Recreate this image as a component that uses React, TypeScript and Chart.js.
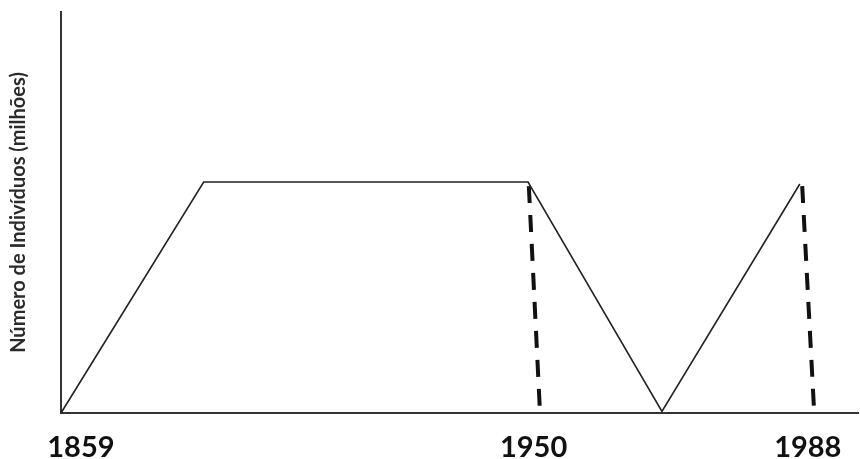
import React, { useEffect, useRef } from "react";
import { Chart, registerables } from "chart.js";

Chart.register(...registerables);

// x in relative time units (0–100), y in relative population units (0–100)
const solidX = [0, 17.9, 58.6, 75.4, 92.7];
const solidY = [0, 57.6, 57.6, 0.4, 57.1];
const dash1X = [58.7, 60.1];
const dash1Y = [56.6, 0.2];
const dash2X = [93.0, 94.5];
const dash2Y = [56.6, 0.2];
const tickPositions = [2.5, 59.3, 93.7];
const tickLabels = ["1859", "1950", "1988"];
const yTitle = "Número de Indivíduos (milhões)";

const toPts = (xs: number[], ys: number[]) => xs.map((x, i) => ({ x, y: ys[i] }));

export default function App() {
  const ref = useRef<HTMLCanvasElement>(null);
  useEffect(() => {
    if (!ref.current) return;
    const chart = new Chart(ref.current, {
      type: "line",
      data: {
        datasets: [
          {
            data: toPts(solidX, solidY),
            borderColor: "#222",
            borderWidth: 1.6,
            pointRadius: 0,
            tension: 0,
            clip: false as any,
          },
          {
            data: toPts(dash1X, dash1Y),
            borderColor: "#111",
            borderWidth: 4,
            borderDash: [17, 12],
            pointRadius: 0,
            clip: false as any,
          },
          {
            data: toPts(dash2X, dash2Y),
            borderColor: "#111",
            borderWidth: 4,
            borderDash: [17, 12],
            pointRadius: 0,
            clip: false as any,
          },
        ],
      },
      options: {
        animation: false,
        responsive: false,
        maintainAspectRatio: false,
        layout: { padding: { top: 12, right: 2, left: 0, bottom: 0 } },
        plugins: { legend: { display: false }, tooltip: { enabled: false } },
        scales: {
          x: {
            type: "linear",
            min: 0,
            max: 100,
            grid: { display: false, drawTicks: false },
            border: { display: true, color: "#333", width: 2 },
            afterBuildTicks: (axis: any) => {
              axis.ticks = tickPositions.map((v) => ({ value: v }));
            },
            afterFit: (axis: any) => {
              axis.height = 46;
            },
            ticks: {
              autoSkip: false,
              maxRotation: 0,
              padding: 17,
              color: "#111",
              font: { family: "Lato", size: 29, weight: "bold" },
              callback: (v: any) => {
                const i = tickPositions.indexOf(Number(v));
                return i >= 0 ? tickLabels[i] : "";
              },
            },
          },
          y: {
            type: "linear",
            min: 0,
            max: 100,
            grid: { display: false, drawTicks: false },
            border: { display: true, color: "#333", width: 2 },
            ticks: { display: false },
            afterFit: (axis: any) => {
              axis.width = 61;
            },
            title: {
              display: true,
              text: yTitle,
              color: "#2a2a2a",
              padding: { top: 7, bottom: 0 },
              font: { family: "Lato", size: 20, weight: "bold" },
            },
          },
        },
      },
    });
    return () => chart.destroy();
  }, []);
  return (
    <div style={{ position: "fixed", left: 0, top: 0, width: 860, height: 459, background: "#fff" }}>
      <canvas ref={ref} width={860} height={459} />
    </div>
  );
}
